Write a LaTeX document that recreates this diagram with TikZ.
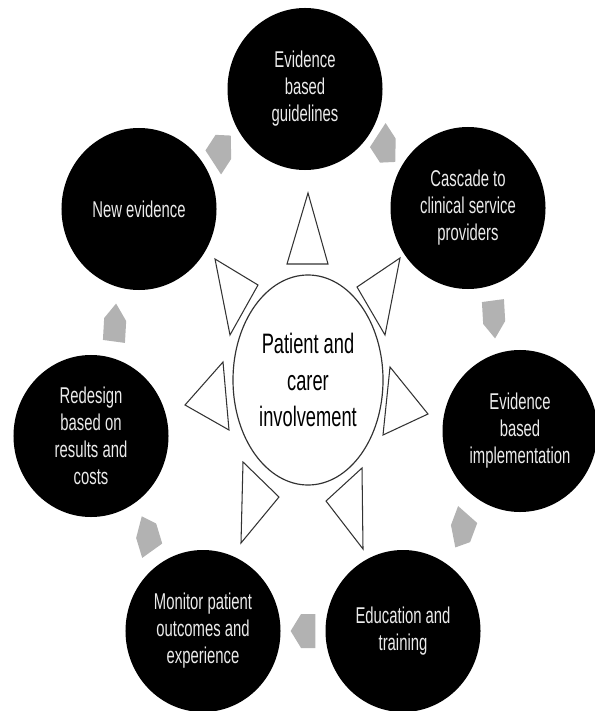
\documentclass[tikz,border=0pt]{standalone}
\usepackage{fontspec}
\setmainfont{Liberation Sans}[FakeStretch=0.65]
\usetikzlibrary{shapes.geometric,calc}

\begin{document}
\begin{tikzpicture}[x=0.03cm, y=-0.03cm,
  stage/.style={ellipse, fill=black, minimum width=4.65cm, minimum height=4.86cm, inner sep=0pt, align=center, text=white!92!black, font=\fontsize{19.5}{23}\selectfont},
  hub/.style={ellipse, draw=black!80, line width=1pt, minimum width=4.5cm, minimum height=6.3cm, align=center, font=\fontsize{24}{31}\selectfont},
  spike/.style={draw=black!80, line width=0.9pt, fill=white},
  cyclearrow/.style={fill=black!30}
]
  \useasboundingbox (0,0) rectangle (594,711);

  \node[hub] (patient) at (308,380) {Patient and\\carer\\involvement};

  \node[stage] (guide) at (305,89) {Evidence\\based\\guidelines};
  \node[stage] (cascade) at (468,208) {Cascade to\\clinical service\\providers};
  \node[stage] (impl) at (520,431) {Evidence\\based\\implementation};
  \node[stage] (edu) at (403,631) {Education and\\training};
  \node[stage] (monitor) at (203,631) {Monitor patient\\outcomes and\\experience};
  \node[stage] (redesign) at (91,436) {Redesign\\based on\\results and\\costs};
  \node[stage] (newev) at (139,209) {New evidence};

  \draw[spike] (308,193) -- (287,264) -- (328,264) -- cycle;
  \draw[spike] (400,258) -- (357,287) -- (385,335) -- cycle;
  \draw[spike] (215,259) -- (258,285) -- (230,335) -- cycle;
  \draw[spike] (428,414) -- (390,367) -- (383,435) -- cycle;
  \draw[spike] (185,405) -- (223,362) -- (229,430) -- cycle;
  \draw[spike] (243,462) -- (279,497) -- (241,543) -- cycle;
  \draw[spike] (362,468) -- (326,501) -- (363,549) -- cycle;

  \foreach \a/\b/\ang in {newev/guide/45, guide/cascade/-45, cascade/impl/-85, impl/edu/-120, edu/monitor/180, monitor/redesign/115, redesign/newev/85}
    \fill[cyclearrow, shift={($(\a)!0.5!(\b)$)}, xscale=0.65, rotate=\ang]
      (-19,-17) -- (3,-17) -- (19,0) -- (3,17) -- (-19,17) -- cycle;
\end{tikzpicture}
\end{document}
